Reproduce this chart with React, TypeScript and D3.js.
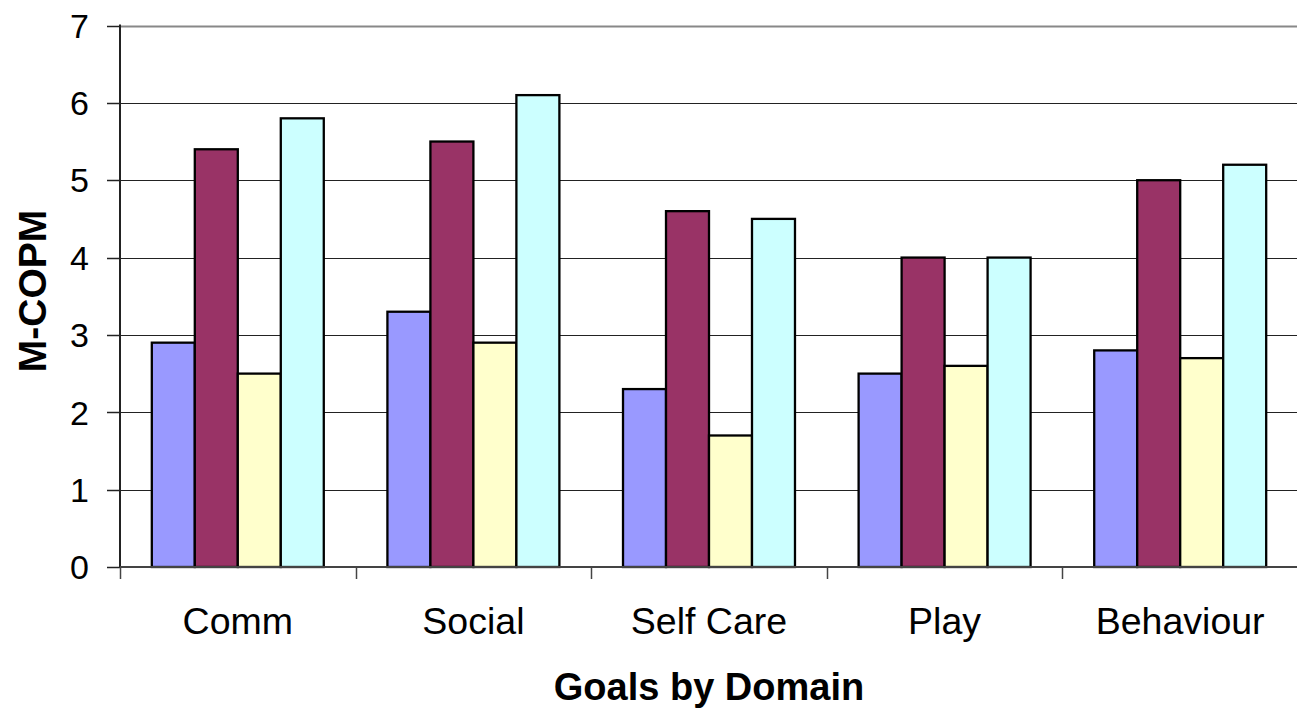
import React, { useEffect, useRef } from "react";
import * as d3 from "d3";

const categories = ["Comm", "Social", "Self Care", "Play", "Behaviour"];
const seriesNames = ["S1", "S2", "S3", "S4"];
const series1 = [2.9, 3.3, 2.3, 2.5, 2.8];
const series2 = [5.4, 5.5, 4.6, 4.0, 5.0];
const series3 = [2.5, 2.9, 1.7, 2.6, 2.7];
const series4 = [5.8, 6.1, 4.5, 4.0, 5.2];
const colors = ["#9999FF", "#993366", "#FFFFCC", "#CCFFFF"];
const yTicks = [0, 1, 2, 3, 4, 5, 6, 7];

const W = 1297;
const H = 710;
const left = 120;
const right = 1298;
const top = 25.5;
const bottom = 567;

export default function App() {
  const ref = useRef<SVGSVGElement>(null);
  useEffect(() => {
    const svg = d3.select(ref.current);
    svg.selectAll("*").remove();
    const font = "'Liberation Sans', Arial, sans-serif";
    const all = [series1, series2, series3, series4];

    const x = d3.scaleBand<string>().domain(categories).range([left, right]).padding(0);
    const xi = d3
      .scaleBand<string>()
      .domain(seriesNames)
      .range([0, x.bandwidth()])
      .paddingInner(0)
      .paddingOuter(0.74);
    const y = d3.scaleLinear().domain([0, 7]).range([bottom, top]);

    // gridlines
    svg
      .append("g")
      .selectAll("line")
      .data(yTicks.filter((t) => t > 0))
      .join("line")
      .attr("x1", left)
      .attr("x2", right)
      .attr("y1", (d) => Math.round(y(d)) + 0.5)
      .attr("y2", (d) => Math.round(y(d)) + 0.5)
      .attr("stroke", (d) => (d === 7 ? "#888" : "#222"))
      .attr("stroke-width", (d) => (d === 7 ? 2 : 1));

    // bars
    const g = svg.append("g");
    categories.forEach((c, ci) => {
      seriesNames.forEach((s, si) => {
        const v = all[si][ci];
        g.append("rect")
          .attr("x", (x(c) as number) + (xi(s) as number))
          .attr("y", y(v))
          .attr("width", xi.bandwidth())
          .attr("height", y(0) - y(v))
          .attr("fill", colors[si])
          .attr("stroke", "#000")
          .attr("stroke-width", 2.3);
      });
    });

    // y axis
    svg
      .append("line")
      .attr("x1", left)
      .attr("x2", left)
      .attr("y1", top - 1)
      .attr("y2", bottom)
      .attr("stroke", "#222")
      .attr("stroke-width", 2);
    svg
      .append("g")
      .selectAll("line")
      .data(yTicks)
      .join("line")
      .attr("x1", 107)
      .attr("x2", left)
      .attr("y1", (d) => Math.round(y(d)) + 0.5)
      .attr("y2", (d) => Math.round(y(d)) + 0.5)
      .attr("stroke", "#222")
      .attr("stroke-width", 1.5);
    svg
      .append("g")
      .selectAll("text")
      .data(yTicks)
      .join("text")
      .attr("x", 89)
      .attr("y", (d) => y(d))
      .attr("dy", "0.36em")
      .attr("text-anchor", "end")
      .attr("font-family", font)
      .attr("font-size", 34)
      .attr("fill", "#000")
      .text((d) => String(d));

    // x axis
    svg
      .append("line")
      .attr("x1", left)
      .attr("x2", right)
      .attr("y1", bottom)
      .attr("y2", bottom)
      .attr("stroke", "#444")
      .attr("stroke-width", 2);
    const bounds = categories.map((c) => x(c) as number).concat([right]);
    svg
      .append("g")
      .selectAll("line")
      .data(bounds)
      .join("line")
      .attr("x1", (d) => Math.round(d) + 0.5)
      .attr("x2", (d) => Math.round(d) + 0.5)
      .attr("y1", bottom)
      .attr("y2", 579)
      .attr("stroke", "#444")
      .attr("stroke-width", 1.5);
    svg
      .append("g")
      .selectAll("text")
      .data(categories)
      .join("text")
      .attr("x", (d) => (x(d) as number) + x.bandwidth() / 2)
      .attr("y", 634)
      .attr("text-anchor", "middle")
      .attr("font-family", font)
      .attr("font-size", 37.5)
      .attr("fill", "#000")
      .text((d) => d);

    // titles
    svg
      .append("text")
      .attr("x", 709)
      .attr("y", 700)
      .attr("text-anchor", "middle")
      .attr("font-family", font)
      .attr("font-weight", "bold")
      .attr("font-size", 38)
      .attr("fill", "#000")
      .text("Goals by Domain");
    svg
      .append("text")
      .attr("transform", "translate(46,291) rotate(-90)")
      .attr("text-anchor", "middle")
      .attr("font-family", font)
      .attr("font-weight", "bold")
      .attr("font-size", 39)
      .attr("fill", "#000")
      .text("M-COPM");
  }, []);

  return (
    <svg
      ref={ref}
      width={W}
      height={H}
      style={{ position: "absolute", left: 0, top: 0, background: "#fff" }}
    />
  );
}
